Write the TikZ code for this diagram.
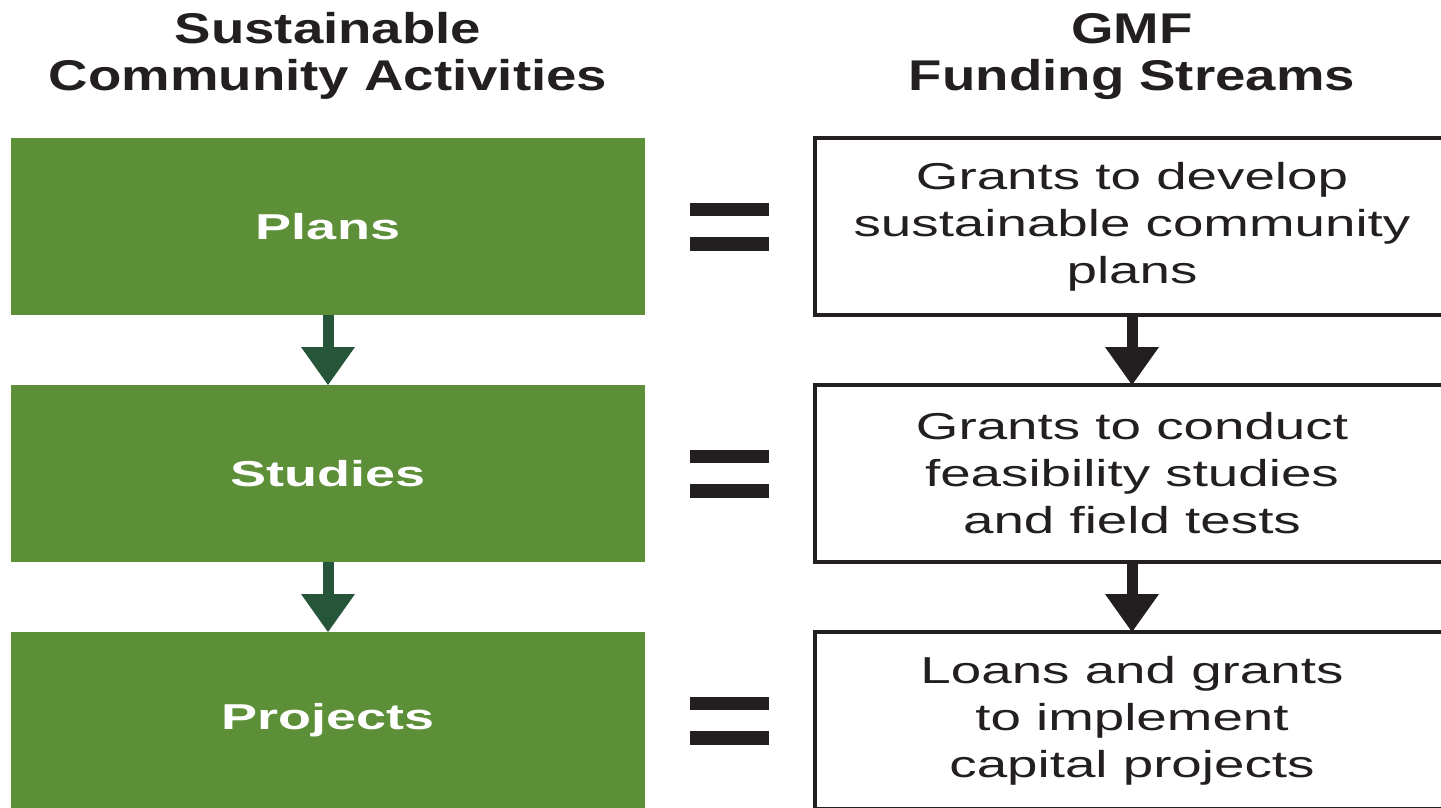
\documentclass[tikz,border=0pt]{standalone}
\usepackage{fontspec}
\setmainfont{Liberation Sans}
\newfontfamily\headfont[FakeStretch=1.27]{Liberation Sans Bold}
\newfontfamily\stagefont[FakeStretch=1.5]{Liberation Sans Bold}
\newfontfamily\streamfont[FakeStretch=1.46]{Liberation Sans}
\usetikzlibrary{arrows.meta, positioning}
\definecolor{actgreen}{RGB}{92,143,56}
\definecolor{arrowgreen}{RGB}{39,85,58}
\definecolor{inkblack}{RGB}{35,31,32}

\begin{document}
\begin{tikzpicture}[
    x=1pt, y=-1pt,
    node distance=70pt,
    activity/.style={rectangle, fill=actgreen, text=white, minimum width=634pt, minimum height=177pt, inner sep=0pt, outer sep=0pt, font=\stagefont\fontsize{36}{43}\selectfont},
    stream/.style={rectangle, draw=inkblack, line width=4pt, minimum width=634pt, minimum height=177pt, inner sep=0pt, outer sep=0pt, align=center, text=inkblack, font=\streamfont\fontsize{37.5}{47}\selectfont},
    heading/.style={align=center, inner sep=0pt, text=inkblack, font=\headfont\fontsize{43}{47}\selectfont},
    flow/.style={-{Triangle[length=38pt, width=54pt, line width=0pt]}, line width=11pt},
    bar/.style={fill=inkblack}
]

\useasboundingbox (0,0) rectangle (1441,807);

% Activities (left column)
\node[activity] (plans) at (328,226.5) {Plans};
\node[activity, below=of plans] (studies) {Studies};
\node[activity, below=of studies] (projects) {Projects};

% Funding streams (right column, open to the right edge)
\node[stream] (planfund) at (1132,226.5) {Grants to develop\\sustainable community\\plans};
\node[stream, below=of planfund] (studyfund) {Grants to conduct\\feasibility studies\\and field tests};
\node[stream, below=of studyfund] (projectfund) {Loans and grants\\to implement\\capital projects};

% Column headings
\node[heading, above=38pt of plans] (acthead) {Sustainable\\Community Activities};
\node[heading, above=38pt of planfund] (fundhead) {GMF\\Funding Streams};

% Flow arrows
\draw[flow, arrowgreen] (plans) -- (studies);
\draw[flow, arrowgreen] (studies) -- (projects);
\draw[flow, inkblack] (planfund) -- (studyfund);
\draw[flow, inkblack] (studyfund) -- (projectfund);

% Equals signs between the columns
\foreach \y in {226.5, 473.5, 720.5} {
    \fill[bar] (690,\y-23.5) rectangle (769,\y-10.5);
    \fill[bar] (690,\y+10.5) rectangle (769,\y+24.5);
}

\end{tikzpicture}
\end{document}
